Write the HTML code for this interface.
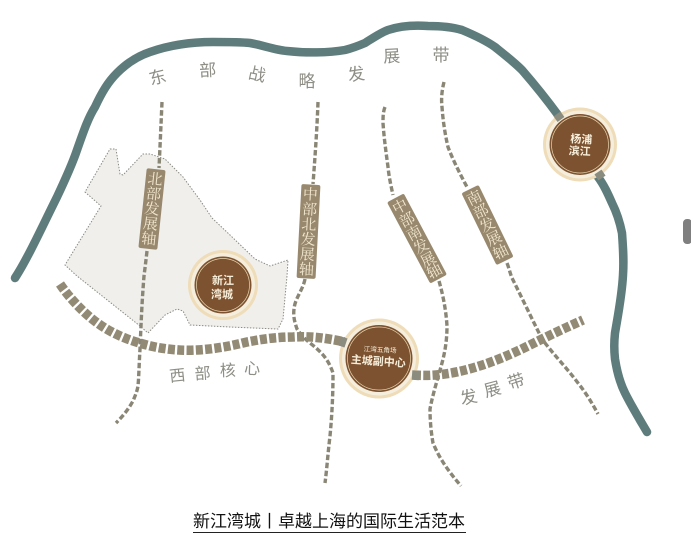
<!DOCTYPE html>
<html><head><meta charset="utf-8">
<style>
html,body{margin:0;padding:0;background:#fff;width:691px;height:552px;overflow:hidden}
svg{display:block;position:absolute;left:0;top:0}
.s{font-family:"Liberation Serif","Noto Serif CJK SC",serif}
.h{font-family:"Liberation Sans","Noto Sans CJK SC",sans-serif}
</style></head><body>
<svg width="691" height="552" viewBox="0 0 691 552">
<!-- district -->
<path d="M110 149L116 149L120 174L123 175L143 154L150 154L165 159L183 177L200 200L212 218L230 235L255 259L270 266L288 260L287 276L283 319L278 329L230 327L190 325L183 311L177 309L165 315L148 333L140 326L77 276L65 265L101 206L85 192Z" fill="#f0efec" stroke="#8b8b85" stroke-width="1" stroke-dasharray="1.5 1.5"/>
<!-- river -->
<path d="M15 278C28 258 43 225 57 197C65 180 72 165 77 150C83 133 88 118 95 107C102 92 108 82 117 73C127 63 138 56 150 52C170 45 190 42 213 42C228 42 240 42 250 43C262 45 275 50 287 51C305 53 328 53 345 50C353 48 358 46 365 43C373 38 380 33 388 30C400 26 414 25 428 26C440 26 452 27 462 30C474 35 485 40 495 47C505 55 514 62 522 70C535 85 547 100 558 115" fill="none" stroke="#5f7c7c" stroke-width="8.5" stroke-linecap="round"/>
<path d="M598 177C604 185 608 194 612 203C617 213 620 223 622 233C623 247 624 260 623 275C622 295 618 315 615 333C614 342 614 350 615 359C617 372 620 383 625 393C632 407 640 420 647 432" fill="none" stroke="#5f7c7c" stroke-width="8.5" stroke-linecap="round"/>
<!-- dashed axes -->
<g fill="none" stroke="#8a8676" stroke-width="3.4" stroke-dasharray="5.5 2.5">
<path d="M162 102C161 125 160 147 159 168"/>
<path d="M147 251C146 260 145 268 144 276C142 300 141 325 140 349C139 365 139 375 138 386C137 392 135 396 133 401C128 410 122 417 116 423"/>
<path d="M318 102C317 130 315 157 313 184"/>
<path d="M305 279C303 290 295 298 294 309C293 317 295 323 297 329C301 335 305 339 310 343C320 351 328 358 333 373C333 395 332 415 330 436C328 452 327 468 325 483"/>
<path d="M385 107C383 112 383 117 383 123C384 138 386 152 388 167C389 177 391 186 393 195"/>
<path d="M439 281C443 295 446 310 447 326C447 340 445 352 442 363C438 378 433 393 430 409C430 420 431 432 433 443C440 460 450 473 461 486"/>
<path d="M444 82C442 90 441 98 442 107C443 121 445 134 448 147C453 160 460 174 467 187"/>
<path d="M507 263C509 268 510 273 512 278C522 298 532 319 542 339C553 354 566 367 578 383C586 393 592 403 598 414"/>
</g>
<!-- west-east band -->
<path d="M60 284C66 293 73 301 80 308C89 317 99 325 110 331C121 337 132 341 143 344C160 349 180 351 197 350C215 349 231 346 247 342C262 339 278 337 293 337C310 336 327 338 345 342" fill="none" stroke="#928a74" stroke-width="9.5" stroke-dasharray="7 2.3"/>
<path d="M414 375C450 378 490 365 530 345C550 335 565 328 583 320" fill="none" stroke="#928a74" stroke-width="9.5" stroke-dasharray="7 2.3"/>
<!-- axis labels -->
<g fill="#98896e">
<rect x="-9.5" y="-40" width="19" height="80" rx="2" transform="translate(152 209) rotate(6)"/>
<rect x="-9.5" y="-47" width="19" height="94" rx="2" transform="translate(308.500 231.500) rotate(3)"/>
<rect x="-9.5" y="-46" width="19" height="92" rx="2" transform="translate(417 238.500) rotate(-28)"/>
<rect x="-9.5" y="-40" width="19" height="80" rx="2" transform="translate(487.500 225) rotate(-26)"/>
</g>
<g class="s" fill="#f1e7cf" font-size="15" text-anchor="middle">
<g transform="translate(152 209) rotate(6)"><text y="-25">北</text><text y="-10">部</text><text y="5">发</text><text y="20">展</text><text y="35">轴</text></g>
<g transform="translate(308.500 231.500) rotate(3)"><text y="-32">中</text><text y="-17">部</text><text y="-2">北</text><text y="13">发</text><text y="28">展</text><text y="43">轴</text></g>
<g transform="translate(417 238.500) rotate(-28)"><text y="-31">中</text><text y="-16">部</text><text y="-1">南</text><text y="14">发</text><text y="29">展</text><text y="42">轴</text></g>
<g transform="translate(487.500 225) rotate(-26)"><text y="-25">南</text><text y="-10">部</text><text y="5">发</text><text y="20">展</text><text y="35">轴</text></g>
</g>
<!-- text -->
<g class="h" fill="#8e8e86" font-size="17" text-anchor="middle">
<text transform="translate(159 83) rotate(-14)">东</text>
<text transform="translate(208 76) rotate(-3)">部</text>
<text transform="translate(256 80) rotate(12)">战</text>
<text transform="translate(307 87)">略</text>
<text transform="translate(357 80) rotate(-8)">发</text>
<text transform="translate(392 62) rotate(-3)">展</text>
<text transform="translate(441 61)">带</text>
<text transform="translate(178 381) rotate(-6)" font-size="16">西</text>
<text transform="translate(203 379) rotate(-4)" font-size="16">部</text>
<text transform="translate(228 376) rotate(-2)" font-size="16">核</text>
<text transform="translate(252 374) rotate(2)" font-size="16">心</text>
<text transform="translate(470 403) rotate(-12)" font-size="17">发</text>
<text transform="translate(494 395) rotate(-15)" font-size="17">展</text>
<text transform="translate(518 387) rotate(-18)" font-size="17">带</text>
</g>
<!-- nodes -->
<g>
<circle cx="580" cy="144.500" r="37" fill="#efdcb8"/><circle cx="580" cy="144.500" r="34" fill="#f6eedd"/><circle cx="580" cy="144.500" r="30.500" fill="#7c5230"/><circle cx="580" cy="144.500" r="28.500" fill="none" stroke="#e9d6b0" stroke-width=".7"/>
<path d="M557 114L561 119.500M598 172L602 178" stroke="#8b8c80" stroke-width="8.500" fill="none"/>
<circle cx="223" cy="285" r="35" fill="#efdcb8"/><circle cx="223" cy="285" r="32" fill="#f6eedd"/><circle cx="223" cy="285" r="28.500" fill="#7c5230"/><circle cx="223" cy="285" r="26.500" fill="none" stroke="#e9d6b0" stroke-width=".7"/>
<circle cx="379" cy="358.500" r="40" fill="#efdcb8"/><circle cx="379" cy="358.500" r="37" fill="#f6eedd"/><circle cx="379" cy="358.500" r="33.500" fill="#7c5230"/><circle cx="379" cy="358.500" r="31.500" fill="none" stroke="#e9d6b0" stroke-width=".7"/>
<path d="M340 341L346 343M412 375L419 375.500" stroke="#8b8c80" stroke-width="9.500" fill="none"/>
</g>
<g class="h" fill="#f7eeda" text-anchor="middle" font-weight="bold">
<g font-size="11"><text x="581" y="143" transform="rotate(3 581 145)">杨浦</text><text x="580" y="155" transform="rotate(3 581 145)">滨江</text></g>
<g font-size="11"><text x="223" y="284">新江</text><text x="222" y="298">湾城</text></g>
<text x="380" y="352" font-size="6.600" font-weight="normal" transform="rotate(3 380 352)">江湾五角场</text>
<text x="378" y="365" font-size="11" transform="rotate(4 378 365)">主城副中心</text>
</g>
<!-- caption -->
<text class="h" x="193" y="527" font-size="17" fill="#111">新江湾城丨卓越上海的国际生活范本</text>
<line x1="193" y1="532.500" x2="466" y2="532.500" stroke="#222" stroke-width="1"/>
<!-- scroll handle -->
<rect x="683" y="219" width="9" height="25" rx="4" fill="#7f7f7f"/>
</svg>
</body></html>
